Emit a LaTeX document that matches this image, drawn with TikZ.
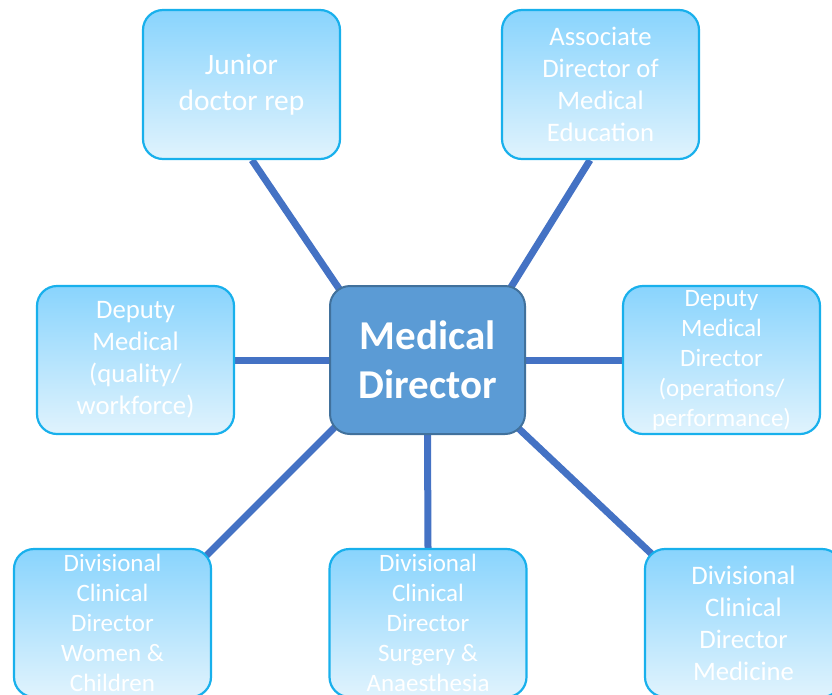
\documentclass[tikz,border=0pt]{standalone}
\usepackage{fontspec}
\setmainfont{Carlito}
\usetikzlibrary{calc,backgrounds}

\definecolor{boxtop}{RGB}{137,212,253}
\definecolor{boxbottom}{RGB}{224,243,253}
\definecolor{boxline}{RGB}{24,176,236}
\definecolor{hubfill}{RGB}{91,155,213}
\definecolor{hubline}{RGB}{65,113,156}
\definecolor{spoke}{RGB}{68,114,196}

\tikzset{
  rolebox/.style={rounded corners=20pt, draw=boxline, line width=2.2pt,
    top color=boxtop, bottom color=boxbottom,
    minimum width=197pt, minimum height=149pt, inner sep=0pt,
    text=white, align=center},
  hubbox/.style={rounded corners=20pt, draw=hubline, line width=2pt,
    fill=hubfill, minimum width=195pt, minimum height=148pt, inner sep=0pt,
    text=white, align=center, font=\bfseries\fontsize{41}{49}\selectfont},
  big/.style={font=\fontsize{29.5}{36}\selectfont},
  mid/.style={font=\fontsize{26.7}{32}\selectfont},
  small/.style={font=\fontsize{25}{30}\selectfont},
  link/.style={draw=spoke, line width=7pt}
}

\begin{document}
\begin{tikzpicture}[x=1pt, y=-1pt]
  \useasboundingbox (0,0) rectangle (832,694);
  \clip (0,0) rectangle (832,694);

  % central role
  \node[hubbox] (md) at (427.5,360) {Medical\\Director};

  % surrounding roles
  \node[rolebox, big] (jr) at (241.5,84.5) {Junior\\doctor rep};
  \node[rolebox, mid] (ad) at (600.5,84.5) {Associate\\Director of\\Medical\\Education};
  \node[rolebox, mid, minimum height=148pt] (dq) at (135.5,360)
    {Deputy\\Medical\\(quality/\\workforce)};
  \node[rolebox, small, minimum height=148pt] (do) at (721.5,360)
    {Deputy\\Medical\\Director\\(operations/\\performance)};
  \node[rolebox, small, minimum height=148pt] (bw) at (112.5,623)
    {Divisional\\Clinical\\Director\\Women \&\\Children};
  \node[rolebox, small, minimum height=148pt] (bs) at (428,623)
    {Divisional\\Clinical\\Director\\Surgery \&\\Anaesthesia};
  \node[rolebox, mid, minimum height=148pt] (bm) at (743.5,623)
    {Divisional\\Clinical\\Director\\Medicine};

  % spokes, drawn beneath the boxes
  \begin{scope}[on background layer]
    \draw[link] ($(jr.south)+(10.5,0)$) -- ($(md.north west)+(15,11)$);
    \draw[link] ($(ad.south)+(-10.5,0)$) -- ($(md.north east)+(-18,7)$);
    \draw[link] (dq.east) -- (md.west);
    \draw[link] (md.east) -- (do.west);
    \draw[link] ($(md.south west)+(12,-14)$) -- ($(bw.north east)+(-11,13)$);
    \draw[link] (md.south) -- (bs.north);
    \draw[link] ($(md.south east)+(-10,-9)$) -- ($(bm.north west)+(13,11)$);
  \end{scope}
\end{tikzpicture}
\end{document}
